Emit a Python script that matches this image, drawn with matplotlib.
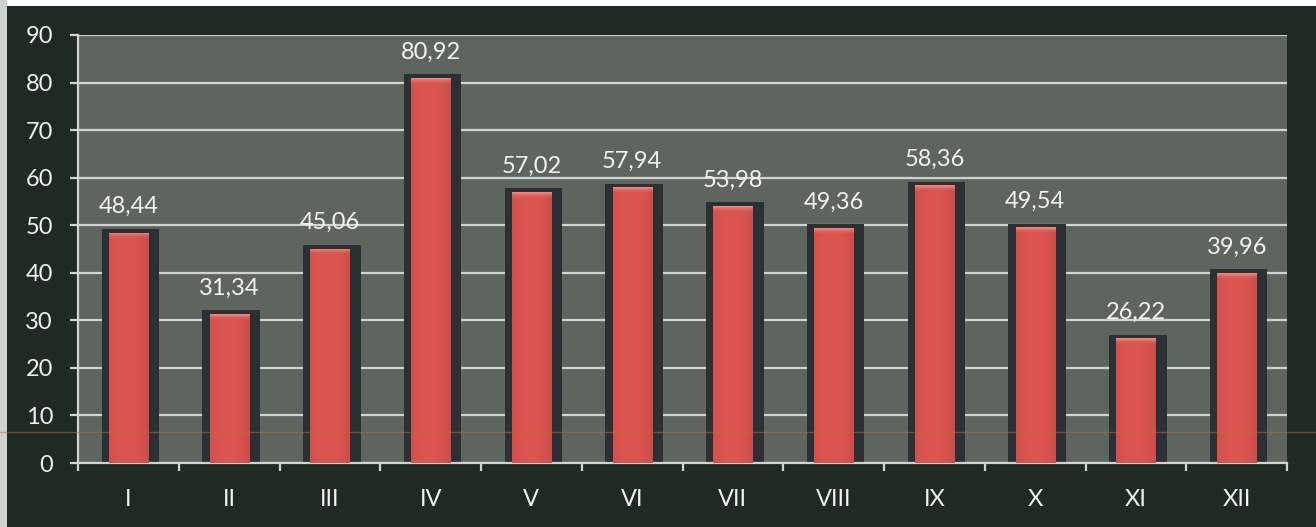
import matplotlib
matplotlib.use("Agg")
import matplotlib.pyplot as plt
import numpy as np

months = ["I", "II", "III", "IV", "V", "VI", "VII", "VIII", "IX", "X", "XI", "XII"]
values = [48.44, 31.34, 45.06, 80.92, 57.02, 57.94, 53.98, 49.36, 58.36, 49.54, 26.22, 39.96]
yticks = [0, 10, 20, 30, 40, 50, 60, 70, 80, 90]

plt.rcParams['font.family'] = ['Lato', 'DejaVu Sans']

fig = plt.figure(figsize=(13.16, 5.27), dpi=100)
fig.patch.set_facecolor('#1f2a24')
ax = fig.add_axes([0.0593, 0.1214, 0.9187, 0.8122])
ax.set_facecolor('#5e655e')

x = np.arange(len(months))
vals = np.array(values)

# scan edges
fig.patches.append(plt.Rectangle((0, 0.988), 1, 0.012, transform=fig.transFigure,
                                 facecolor='white', edgecolor='none', zorder=0))
fig.patches.append(plt.Rectangle((0, 0), 0.005, 1, transform=fig.transFigure,
                                 facecolor='#cfd3d0', edgecolor='none', zorder=0))
fig.add_artist(plt.Line2D([0, 1], [1 - 432 / 527, 1 - 432 / 527], transform=fig.transFigure,
                          color='#b8702a', lw=1.0, alpha=0.5, zorder=5))

# shadows
ax.bar(x + 0.02, vals + 0.8, width=0.57, color='#2b3034', zorder=2)
# main bars
bars = ax.bar(x, vals, width=0.39, color='#d6524d', zorder=3)
# horizontal shading across bars
n = 64
t = np.linspace(0, 1, n)
prof = 1 - 0.5 * (np.abs(t - 0.45) * 2) ** 3
base = np.array([0.86, 0.33, 0.31])
img = np.ones((1, n, 4))
for i in range(n):
    img[0, i, :3] = base * (0.88 + 0.12 * prof[i])
for b in bars:
    im = ax.imshow(img, extent=[b.get_x(), b.get_x() + b.get_width(), 0, b.get_height()],
                   aspect='auto', zorder=3.5, interpolation='bicubic')
    im.set_clip_path(b)
# soft top bevel
cap = 1.4
for b in bars:
    vimg = np.ones((n, 1, 4))
    for i in range(n):
        k = i / (n - 1)  # 0 at top
        c = np.array([0.93, 0.58, 0.55]) * (1 - k) + base * k
        vimg[i, 0, :3] = c
        vimg[i, 0, 3] = 1 - k
    h = b.get_height()
    im = ax.imshow(vimg, extent=[b.get_x(), b.get_x() + b.get_width(), h - cap, h],
                   aspect='auto', zorder=3.8, interpolation='bicubic')
    im.set_clip_path(b)

for xi, v in zip(x, vals):
    ax.annotate(f"{v:.2f}".replace('.', ','), (xi, v), xytext=(0, 14), textcoords='offset points',
                ha='center', va='baseline', color='#f4f4f4', fontsize=17, zorder=6)

ax.set_xlim(-0.5, len(months) - 0.5)
ax.set_ylim(0, 90)
ax.set_yticks(yticks)
ax.set_yticklabels([str(t) for t in yticks])
ax.yaxis.grid(True, color='#d2d2d2', lw=1.6, zorder=1)
ax.set_axisbelow(True)

ax.set_xticks(x)
ax.set_xticklabels(months)
ax.set_xticks(np.arange(-0.5, len(months)), minor=True)
ax.tick_params(axis='x', which='major', length=0, pad=19, labelsize=17, colors='#f2f2f2')
ax.tick_params(axis='x', which='minor', length=6, width=1.6, color='#d2d2d2', direction='out')
ax.tick_params(axis='y', length=6, width=1.6, color='#d2d2d2', pad=12, labelsize=17, labelcolor='#f2f2f2')

for s in ['top', 'right']:
    ax.spines[s].set_visible(False)
for s in ['left', 'bottom']:
    ax.spines[s].set_color('#d2d2d2')
    ax.spines[s].set_linewidth(1.6)

fig.savefig('out.png', dpi=100, facecolor=fig.get_facecolor())
